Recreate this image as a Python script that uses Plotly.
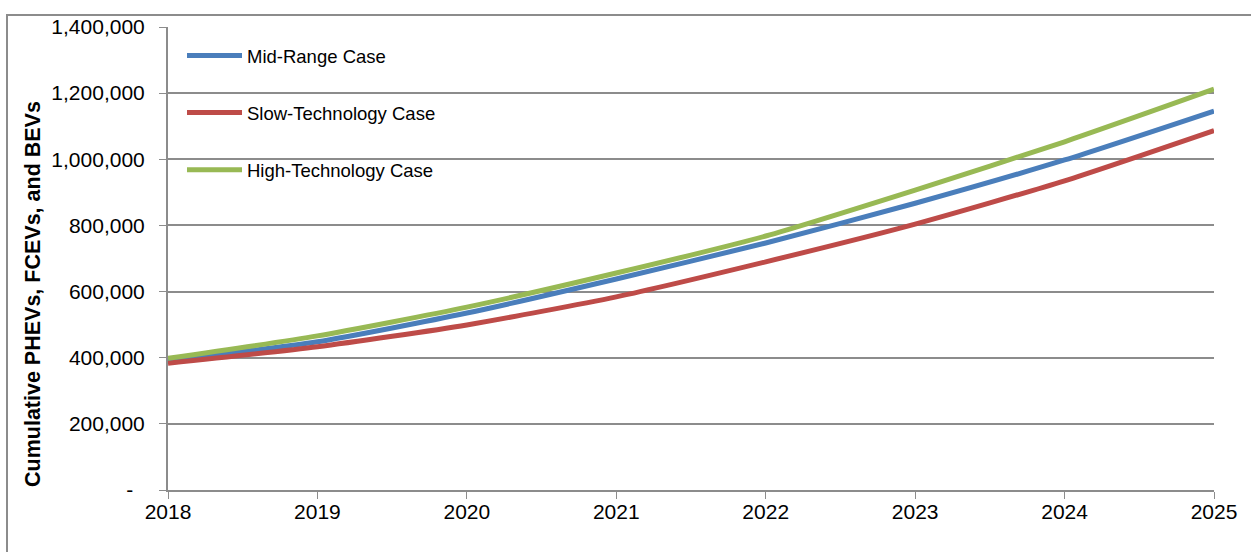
import plotly.graph_objects as go

# Cumulative vehicle population by scenario
years = [2018, 2019, 2020, 2021, 2022, 2023, 2024, 2025]
mid_range = [392000, 448000, 535000, 638000, 747000, 867000, 998000, 1146000]
slow_tech = [383000, 433000, 499000, 584000, 690000, 804000, 935000, 1087000]
high_tech = [398000, 466000, 553000, 656000, 768000, 907000, 1053000, 1212000]

y_ticks = [0, 200000, 400000, 600000, 800000, 1000000, 1200000, 1400000]
y_tick_text = ["-\u00a0\u00a0", "200,000", "400,000", "600,000", "800,000", "1,000,000", "1,200,000", "1,400,000"]

series = [
    ("Mid-Range Case", mid_range, "#4A7EBB"),
    ("Slow-Technology Case", slow_tech, "#BE4B48"),
    ("High-Technology Case", high_tech, "#98B954"),
]

fig = go.Figure()
for i, (name, vals, color) in enumerate(series):
    fig.add_trace(go.Scatter(
        x=years, y=vals, name=name, mode="lines",
        line=dict(color=color, width=5, shape="spline", smoothing=0.6),
        legendgroup=f"g{i}",
    ))

W, H = 1251, 552
ml, mr, mt, mb = 168, 37, 27, 62
pw, ph = W - ml - mr, H - mt - mb

def px_x(x):
    return (x - ml) / pw

def px_y(y):
    return (H - mb - y) / ph

grid_col = "#8C8C8C"
font = "Liberation Sans, Arial, sans-serif"

fig.update_layout(
    width=W, height=H,
    margin=dict(l=ml, r=mr, t=mt, b=mb),
    paper_bgcolor="white", plot_bgcolor="white",
    font=dict(family=font, size=21, color="black"),
    showlegend=True,
    legend=dict(
        x=px_x(182), y=px_y(37), xanchor="left", yanchor="top",
        bgcolor="rgba(0,0,0,0)", font=dict(size=18.5),
        tracegroupgap=30, itemwidth=55,
    ),
    xaxis=dict(
        range=[2018, 2025], tickvals=years, ticktext=[str(y) for y in years],
        showgrid=False, zeroline=False,
        showline=True, linecolor=grid_col, linewidth=2,
        ticks="outside", ticklen=2, tickcolor=grid_col, tickwidth=1,
        minor=dict(tickvals=years, ticks="outside", ticklen=7,
                   tickcolor=grid_col, tickwidth=1, showgrid=False),
        tickfont=dict(size=21),
    ),
    yaxis=dict(
        range=[0, 1400000], tickvals=y_ticks, ticktext=y_tick_text,
        showgrid=True, gridcolor=grid_col, gridwidth=2, zeroline=False,
        showline=True, linecolor=grid_col, linewidth=2,
        ticks="outside", ticklen=7, tickcolor=grid_col, tickwidth=1,
        tickfont=dict(size=21), ticklabelstandoff=10,
    ),
    annotations=[dict(
        text="<b>Cumulative PHEVs, FCEVs, and BEVs</b>",
        xref="paper", yref="paper", x=px_x(33), y=px_y(294),
        textangle=-90, showarrow=False, font=dict(size=21.5),
        xanchor="center", yanchor="middle",
    )],
    shapes=[dict(
        type="rect", xref="paper", yref="paper",
        x0=px_x(7), y0=px_y(600), x1=px_x(1260), y1=px_y(15),
        line=dict(color=grid_col, width=2), fillcolor="rgba(0,0,0,0)",
        layer="below",
    )],
)

fig.write_html("out.html")
